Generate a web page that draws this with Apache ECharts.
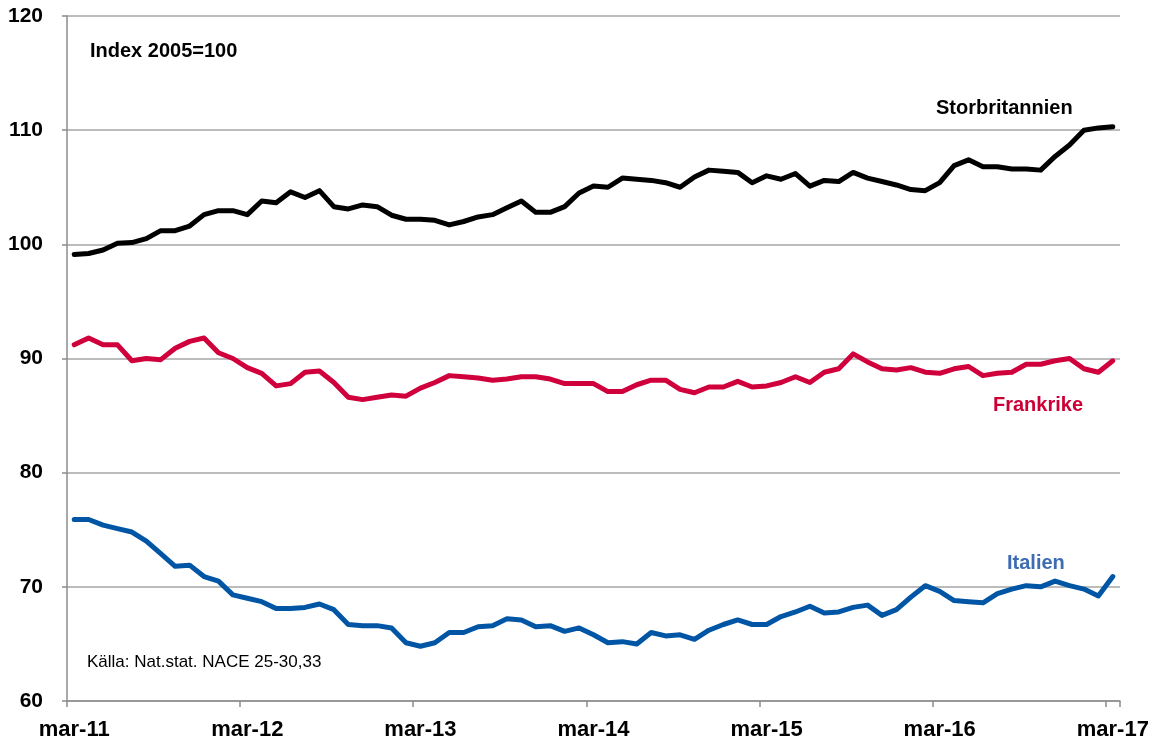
<!DOCTYPE html>
<html>
<head>
<meta charset="utf-8">
<script src="https://cdn.jsdelivr.net/npm/echarts@6/dist/echarts.min.js"></script>
<style>
html,body{margin:0;padding:0;background:#fff;}
#chart{width:1161px;height:746px;}
</style>
</head>
<body>
<div id="chart"></div>
<script>
var categories = [
 'mar-11','apr-11','maj-11','jun-11','jul-11','aug-11','sep-11','okt-11','nov-11','dec-11','jan-12','feb-12',
 'mar-12','apr-12','maj-12','jun-12','jul-12','aug-12','sep-12','okt-12','nov-12','dec-12','jan-13','feb-13',
 'mar-13','apr-13','maj-13','jun-13','jul-13','aug-13','sep-13','okt-13','nov-13','dec-13','jan-14','feb-14',
 'mar-14','apr-14','maj-14','jun-14','jul-14','aug-14','sep-14','okt-14','nov-14','dec-14','jan-15','feb-15',
 'mar-15','apr-15','maj-15','jun-15','jul-15','aug-15','sep-15','okt-15','nov-15','dec-15','jan-16','feb-16',
 'mar-16','apr-16','maj-16','jun-16','jul-16','aug-16','sep-16','okt-16','nov-16','dec-16','jan-17','feb-17',
 'mar-17'
];
var storbritannien = [99.1,99.2,99.5,100.1,100.15,100.5,101.2,101.2,101.6,102.6,
 102.95,102.95,102.6,103.8,103.65,104.6,104.1,104.7,103.3,103.1,
 103.45,103.3,102.55,102.2,102.2,102.1,101.7,102.0,102.4,102.6,
 103.2,103.8,102.8,102.8,103.3,104.5,105.1,105.0,105.8,105.7,
 105.6,105.4,105.0,105.9,106.5,106.4,106.3,105.4,106.0,105.7,
 106.2,105.1,105.6,105.5,106.3,105.8,105.5,105.2,104.8,104.7,
 105.4,106.9,107.4,106.8,106.8,106.6,106.6,106.5,107.7,108.7,
 110.0,110.2,110.3];
var frankrike = [91.2,91.8,91.2,91.2,89.8,90.0,89.9,90.9,91.5,91.8,
 90.5,90.0,89.2,88.7,87.6,87.8,88.8,88.9,87.9,86.6,
 86.4,86.6,86.8,86.7,87.4,87.9,88.5,88.4,88.3,88.1,
 88.2,88.4,88.4,88.2,87.8,87.8,87.8,87.1,87.1,87.7,
 88.1,88.1,87.3,87.0,87.5,87.5,88.0,87.5,87.6,87.9,
 88.4,87.9,88.8,89.1,90.4,89.7,89.1,89.0,89.2,88.8,
 88.7,89.1,89.3,88.5,88.7,88.8,89.5,89.5,89.8,90.0,
 89.1,88.8,89.8];
var italien = [75.9,75.9,75.4,75.1,74.8,74.0,72.9,71.8,71.9,70.9,
 70.5,69.3,69.0,68.7,68.1,68.1,68.2,68.5,68.0,66.7,
 66.6,66.6,66.4,65.1,64.8,65.1,66.0,66.0,66.5,66.6,
 67.2,67.1,66.5,66.6,66.1,66.4,65.8,65.1,65.2,65.0,
 66.0,65.7,65.8,65.4,66.2,66.7,67.1,66.7,66.7,67.4,
 67.8,68.3,67.7,67.8,68.2,68.4,67.5,68.0,69.1,70.1,
 69.6,68.8,68.7,68.6,69.4,69.8,70.1,70.0,70.5,70.1,
 69.8,69.2,70.9];
var yTicks = [60,70,80,90,100,110,120];
var labels = {
  index: 'Index 2005=100',
  uk: 'Storbritannien',
  fr: 'Frankrike',
  it: 'Italien',
  source: 'Källa: Nat.stat. NACE 25-30,33'
};

var FONT = '"Liberation Sans", Arial, sans-serif';
var chart = echarts.init(document.getElementById('chart'), null, {renderer: 'canvas'});
function lineSeries(name, data, color) {
  return {
    name: name, type: 'line', data: data, symbol: 'none', smooth: false,
    lineStyle: {color: color, width: 5, cap: 'round', join: 'round'},
    itemStyle: {color: color}, silent: true, animation: false
  };
}
chart.setOption({
  animation: false,
  backgroundColor: '#ffffff',
  grid: {left: 67, right: 41, top: 16, bottom: 45, containLabel: false},
  xAxis: {
    type: 'category', data: categories, boundaryGap: true,
    axisLine: {show: true, lineStyle: {color: '#8c8c8c', width: 1.5}},
    axisTick: {show: true, interval: function (i) { return i % 12 === 0 && i < categories.length; }, length: 6, inside: false, alignWithLabel: false, lineStyle: {color: '#8c8c8c', width: 1.5}},
    axisLabel: {interval: 11, margin: 18, color: '#000', fontSize: 22, fontWeight: 'bold', fontFamily: FONT},
    splitLine: {show: false}
  },
  yAxis: {
    type: 'value', min: yTicks[0], max: yTicks[yTicks.length - 1], interval: 10,
    axisLine: {show: true, lineStyle: {color: '#8c8c8c', width: 1.5}},
    axisTick: {show: true, length: 5, inside: false, lineStyle: {color: '#8c8c8c', width: 1.5}},
    axisLabel: {margin: 24, color: '#000', fontSize: 21, fontWeight: 'bold', fontFamily: FONT},
    splitLine: {show: true, lineStyle: {color: '#a6a6a6', width: 1.5}}
  },
  series: [
    lineSeries(labels.uk, storbritannien, '#000000'),
    lineSeries(labels.fr, frankrike, '#d0003c'),
    lineSeries(labels.it, italien, '#0055a5')
  ],
  graphic: [
    {type: 'text', left: 90, top: 41, style: {text: labels.index, fill: '#000', font: 'bold 20px ' + FONT}},
    {type: 'text', left: 936, top: 98, style: {text: labels.uk, fill: '#000', font: 'bold 20px ' + FONT}},
    {type: 'text', left: 993, top: 395, style: {text: labels.fr, fill: '#cc0036', font: 'bold 20px ' + FONT}},
    {type: 'text', left: 1007, top: 553, style: {text: labels.it, fill: '#3e6cb3', font: 'bold 20px ' + FONT}},
    {type: 'text', left: 87, top: 654, style: {text: labels.source, fill: '#000', font: '17px ' + FONT}}
  ]
});
</script>
</body>
</html>
